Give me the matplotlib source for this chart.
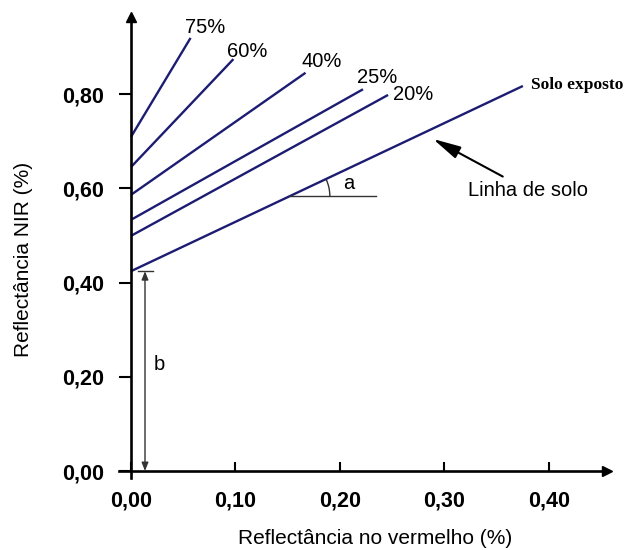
import math
import matplotlib
matplotlib.use("Agg")
import matplotlib.pyplot as plt
from matplotlib.patches import Arc
from matplotlib.ticker import FuncFormatter

# isolines: NIR at red = 0 and the upper end point of each line
labels = ["75%", "60%", "40%", "25%", "20%", "Solo exposto"]
intercepts = [0.709, 0.645, 0.586, 0.533, 0.499, 0.424]
end_red = [0.057, 0.098, 0.167, 0.222, 0.246, 0.375]
end_nir = [0.919, 0.874, 0.845, 0.810, 0.798, 0.817]

# where each label sits relative to the end of its line (pixels)
label_offsets = [(-6, 5), (-6, 2), (-4, 6), (-6, 6), (5, -5), (8, 1)]

xticks = [0.0, 0.1, 0.2, 0.3, 0.4]
yticks = [0.0, 0.2, 0.4, 0.6, 0.8]

line_color = "#1c1c72"
sans = ["Liberation Sans", "DejaVu Sans"]
px = 72 / 100  # points per pixel

fig = plt.figure(figsize=(6.31, 5.5), dpi=100)
ax = fig.add_axes([119 / 631, 1 - 478 / 550, (607 - 119) / 631, (478 - 17) / 550])
ax.set_xlim(-0.01148, (607 - 131) / 1045)
ax.set_ylim(-0.01485, (471 - 17) / 471.25)

for sp in ["top", "right"]:
    ax.spines[sp].set_visible(False)
for sp in ["left", "bottom"]:
    ax.spines[sp].set_position(("data", 0))
    ax.spines[sp].set_linewidth(1.9)

# arrow heads on the axes
ax.plot(1, 0, ">k", ms=7.5, transform=ax.get_yaxis_transform(), clip_on=False)
ax.plot(0, 1, "^k", ms=7.5, transform=ax.get_xaxis_transform(), clip_on=False)

fmt = FuncFormatter(lambda v, p: f"{v:.2f}".replace(".", ","))
ax.set_xticks(xticks)
ax.set_yticks(yticks)
ax.xaxis.set_major_formatter(fmt)
ax.yaxis.set_major_formatter(fmt)
ax.tick_params(axis="x", direction="in", length=6.5, width=1.5, pad=14)
ax.tick_params(axis="y", direction="out", length=8.6, width=1.5, pad=11)
for t in ax.get_xticklabels() + ax.get_yticklabels():
    t.set_fontfamily(sans)
    t.set_fontweight("bold")
    t.set_fontsize(15.5)

# isolines
for lab, b0, xe, ye, (dx, dy) in zip(labels, intercepts, end_red, end_nir, label_offsets):
    ax.plot([0, xe], [b0, ye], color=line_color, lw=1.7, solid_capstyle="butt")
    if lab == "Solo exposto":
        ax.annotate(lab, (xe, ye), xytext=(dx * px, dy * px), textcoords="offset points",
                    ha="left", va="center", fontsize=12.5, fontweight="bold",
                    family=["Liberation Serif", "DejaVu Serif"])
    else:
        ax.annotate(lab, (xe, ye), xytext=(dx * px, dy * px), textcoords="offset points",
                    ha="left", va="baseline", fontsize=14.5, family=sans)

# angle a between soil line and horizontal
soil_b = intercepts[-1]
soil_slope = (end_nir[-1] - soil_b) / end_red[-1]
x0 = 0.152
y0 = soil_b + soil_slope * x0
ax.plot([x0, 0.234], [y0, y0], color="#333333", lw=1)
r = 40
ax.add_patch(Arc((x0, y0), 2 * r / 1045, 2 * r / 471.25, theta1=0,
                 theta2=math.degrees(math.atan(soil_slope)), color="#333333", lw=1))
ax.text(0.208, 0.611, "a", fontsize=14.5, family=sans, ha="center", va="center")

# intercept b
ax.annotate("", xy=(0.0134, 0), xytext=(0.0134, soil_b),
            arrowprops=dict(arrowstyle="<|-|>,head_length=0.5,head_width=0.2",
                            mutation_scale=10, color="#333333", lw=1,
                            shrinkA=0, shrinkB=0))
ax.plot([0.0067, 0.021], [soil_b, soil_b], color="#333333", lw=1)
ax.text(0.027, 0.227, "b", fontsize=14.5, family=sans, ha="center", va="center")

# soil line pointer
ax.annotate("Linha de solo", xy=(0.289, 0.7046), xytext=(0.3225, 0.596),
            ha="left", va="center", fontsize=14.5, family=sans,
            arrowprops=dict(arrowstyle="-|>,head_length=1.3,head_width=0.3",
                            mutation_scale=13, color="k", lw=1.5,
                            shrinkA=2, shrinkB=0))

fig.text(23.5 / 631, 1 - 259 / 550, "Reflectância NIR (%)", rotation=90,
         ha="center", va="center", fontsize=15, family=sans)
fig.text(375 / 631, 1 - 544 / 550, "Reflectância no vermelho (%)",
         ha="center", va="baseline", fontsize=15, family=sans)

fig.savefig("out.png", dpi=100)
